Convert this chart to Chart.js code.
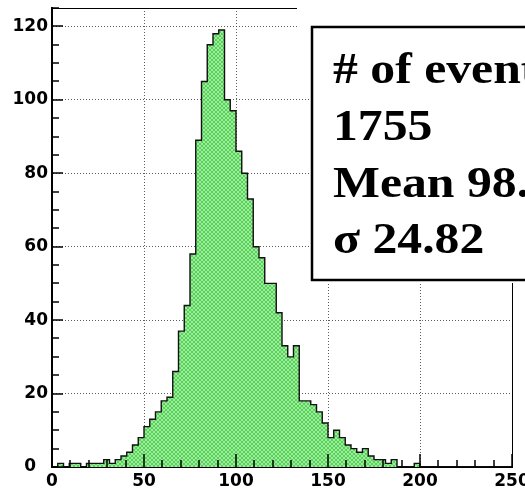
<!DOCTYPE html>
<html>
<head>
<meta charset="utf-8">
<script src="https://cdn.jsdelivr.net/npm/chart.js@4.4.1/dist/chart.umd.min.js"></script>
<style>
  html, body { margin: 0; padding: 0; background: #fff; }
</style>
</head>
<body>
<canvas id="histo" width="525" height="491"></canvas>
<script>
// histogram contents: 80 bins between 0 and 250
const binLow = 0;
const binHigh = 250;
const counts = [
    0, 1, 0, 1, 1, 0, 1, 1, 1, 2,
    1, 2, 3, 4, 6, 8, 11, 13, 15, 18,
    19, 26, 37, 44, 58, 89, 105, 115, 118, 119,
    100, 97, 86, 80, 73, 60, 57, 50, 50, 42,
    33, 30, 33, 18, 18, 17, 15, 12, 8, 10,
    8, 6, 5, 4, 5, 3, 2, 2, 1, 2,
    0, 0, 0, 1, 0, 0, 0, 0, 0, 0,
    0, 0, 0, 0, 0, 0, 0, 0, 0, 0
];
const xTickValues = [0, 50, 100, 150, 200, 250];
const yTickValues = [0, 20, 40, 60, 80, 100, 120];
const statsLines = ['# of events', '1755', 'Mean 98.', 'σ 24.82'];

const tickFont = { family: 'DejaVu Sans', weight: 'bold', size: 17 };

// light green fill with a fine cross hatch, like the ROOT fill style
function makeHatch() {
    const c = document.createElement('canvas');
    c.width = 4;
    c.height = 4;
    const g = c.getContext('2d');
    g.fillStyle = '#9af09a';
    g.fillRect(0, 0, 4, 4);
    g.fillStyle = '#5ccf5c';
    for (let i = 0; i < 4; i++) {
        g.fillRect(i, i, 1, 1);
        g.fillRect(3 - i, i, 1, 1);
    }
    return g.createPattern(c, 'repeat');
}

// dotted grid only on the inner major ticks
function gridColor(ctx, max) {
    if (!ctx.tick || ctx.tick.value <= 0 || ctx.tick.value >= max) return 'rgba(0,0,0,0)';
    return 'rgba(40,40,40,0.75)';
}

// inward tick marks, frame and the stats box
const rootFrame = {
    id: 'rootFrame',
    afterDraw(chart) {
        const { ctx, chartArea: a, scales: { x, y } } = chart;
        ctx.save();
        ctx.strokeStyle = '#000';
        ctx.lineWidth = 1.5;

        for (let v = 0; v <= 250; v += 10) {
            const px = Math.round(x.getPixelForValue(v));
            const len = v % 50 === 0 ? 13 : 7;
            ctx.beginPath();
            ctx.moveTo(px, a.bottom);
            ctx.lineTo(px, a.bottom - len);
            ctx.stroke();
        }
        for (let v = 0; v <= 125; v += 5) {
            const py = Math.round(y.getPixelForValue(v));
            const len = v % 20 === 0 ? 11 : 7;
            ctx.beginPath();
            ctx.moveTo(a.left, py);
            ctx.lineTo(a.left + len, py);
            ctx.stroke();
        }

        // top and right side of the frame
        ctx.lineWidth = 1;
        ctx.beginPath();
        ctx.moveTo(a.left, a.top + 0.5);
        ctx.lineTo(a.right, a.top + 0.5);
        ctx.moveTo(a.right + 0.5, a.top);
        ctx.lineTo(a.right + 0.5, a.bottom);
        ctx.stroke();

        // stats box (runs off the right edge)
        ctx.fillStyle = '#fff';
        ctx.fillRect(297, 0, 228, 30);
        ctx.fillRect(310, 0, 215, 283);
        ctx.lineWidth = 2.5;
        ctx.strokeRect(312, 27, 300, 253);

        ctx.fillStyle = '#000';
        ctx.font = 'bold 44px "Liberation Serif"';
        ctx.textBaseline = 'alphabetic';
        const baselines = [83, 140, 197, 253];
        statsLines.forEach((line, i) => {
            ctx.save();
            ctx.translate(333, baselines[i]);
            ctx.scale(1.13, 1);
            ctx.fillText(line, 0, 0);
            ctx.restore();
        });
        ctx.restore();
    }
};

const binWidth = (binHigh - binLow) / counts.length;
const points = counts.map((v, i) => ({ x: binLow + i * binWidth, y: v }));
points.push({ x: binHigh, y: counts[counts.length - 1] });

new Chart(document.getElementById('histo'), {
    type: 'line',
    data: {
        datasets: [{
            data: points,
            stepped: 'before',
            fill: 'origin',
            backgroundColor: makeHatch(),
            borderColor: '#111',
            borderWidth: 1.4,
            pointRadius: 0
        }]
    },
    options: {
        responsive: false,
        animation: false,
        devicePixelRatio: 1,
        layout: { padding: { top: 8, right: 13, left: 0, bottom: 0 } },
        plugins: {
            legend: { display: false },
            tooltip: { enabled: false }
        },
        scales: {
            x: {
                type: 'linear',
                min: binLow,
                max: binHigh,
                z: 1,
                afterBuildTicks: s => { s.ticks = xTickValues.map(v => ({ value: v })); },
                afterFit: s => { s.height = 24; s.paddingLeft = 0; s.paddingRight = 0; },
                ticks: { font: tickFont, color: '#000', padding: 4, maxRotation: 0, autoSkip: false },
                grid: { drawTicks: false, color: c => gridColor(c, binHigh), lineWidth: 1 },
                border: { display: true, color: '#000', width: 2, dash: [1, 2] }
            },
            y: {
                type: 'linear',
                min: 0,
                max: 125,
                z: 1,
                afterBuildTicks: s => { s.ticks = yTickValues.map(v => ({ value: v })); },
                afterFit: s => { s.width = 52; s.paddingTop = 0; s.paddingBottom = 0; },
                // ROOT pushes the zero label left, away from the x-axis zero
                ticks: { font: tickFont, color: '#000', padding: 4, callback: v => v === 0 ? '0  ' : String(v) },
                grid: { drawTicks: false, color: c => gridColor(c, 125), lineWidth: 1 },
                border: { display: true, color: '#000', width: 2, dash: [1, 2] }
            }
        }
    },
    plugins: [rootFrame]
});
</script>
</body>
</html>
